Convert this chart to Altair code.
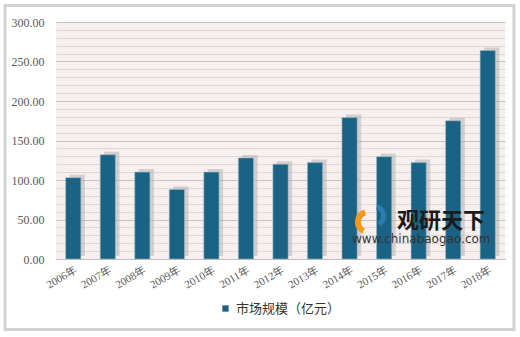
import altair as alt
import pandas as pd

years = ["2006年", "2007年", "2008年", "2009年", "2010年", "2011年", "2012年",
         "2013年", "2014年", "2015年", "2016年", "2017年", "2018年"]
values = [103.0, 132.0, 110.0, 88.0, 110.0, 128.0, 120.0,
          122.0, 179.0, 129.5, 122.0, 175.0, 264.0]
series_name = "市场规模（亿元）"

df = pd.DataFrame({"year": years, "value": values, "series": series_name})

x_enc = alt.X("year:N", sort=years, title=None,
              scale=alt.Scale(paddingInner=0.56, paddingOuter=0.28),
              axis=alt.Axis(labelAngle=330, labelAlign="right", labelBaseline="top",
                            labelFont="Liberation Serif, Noto Sans CJK SC", labelFontSize=11,
                            labelColor="#595959", ticks=False, domain=True,
                            domainColor="#bfbfbf", labelPadding=5, grid=False))
y_enc = alt.Y("value:Q", title=None,
              scale=alt.Scale(domain=[0, 300], nice=False),
              axis=alt.Axis(values=list(range(0, 301, 10)),
                            labelExpr="datum.value % 50 === 0 ? format(datum.value, '.2f') : ''",
                            labelFont="Liberation Serif", labelFontSize=12,
                            labelColor="#595959", ticks=False, domain=False,
                            labelPadding=12,
                            gridColor={"condition": {"test": "datum.value % 50 === 0", "value": "#c4c4c4"},
                                       "value": "#d9d9d9"},
                            gridWidth=1))

base = alt.Chart(df)

shadow = base.mark_bar(color="#a8a8a8", opacity=0.45, xOffset=4, yOffset=-3).encode(
    x=x_enc, y=y_enc)

bars = base.mark_bar(color="#1a6384", stroke="#9fb8c4", strokeWidth=0.6).encode(
    x=x_enc, y=y_enc,
    color=alt.Color("series:N", scale=alt.Scale(range=["#1a6384"]),
                    legend=alt.Legend(title=None, orient="none", legendX=163, legendY=280,
                                      symbolType="square", symbolSize=40,
                                      labelFont="Noto Sans CJK SC", labelFontSize=13,
                                      labelColor="#333333", symbolStrokeWidth=0)))

one = alt.Data(values=[{"a": 1}])

border = alt.Chart(one).mark_rect(fill=None, stroke="#d2d2d2", strokeWidth=3).encode(
    x=alt.value(-51), x2=alt.value(458), y=alt.value(-16.5), y2=alt.value(307.5))

wm_title = alt.Chart(one).mark_text(text="观研天下", font="Noto Sans CJK SC", fontSize=22,
                                     fontWeight="bold", color="#1a1a1a", align="left",
                                     baseline="middle").encode(
    x=alt.value(341), y=alt.value(199))
wm_url = alt.Chart(one).mark_text(text="www.chinabaogao.com", font="DejaVu Sans", fontSize=12,
                                   color="#333333", align="left", baseline="middle").encode(
    x=alt.value(296), y=alt.value(217))
logo_orange = alt.Chart(one).mark_arc(color="#f39a1e", radius=13, radius2=7,
                                      theta=3.6, theta2=6.0).encode(
    x=alt.value(312), y=alt.value(200))
logo_blue = alt.Chart(one).mark_arc(color="#2a7fb0", radius=12, radius2=7,
                                    theta=0.3, theta2=2.6).encode(
    x=alt.value(318), y=alt.value(194))

chart = alt.layer(border, shadow, bars, logo_orange, logo_blue, wm_title, wm_url).properties(
    width=449, height=237, autosize="none",
    padding={"left": 56, "top": 22, "right": 15, "bottom": 78},
    background="white"
).configure_view(fill="#f8efef", stroke=None)

chart.save("out.html", embed_options={"renderer": "svg", "actions": False})
